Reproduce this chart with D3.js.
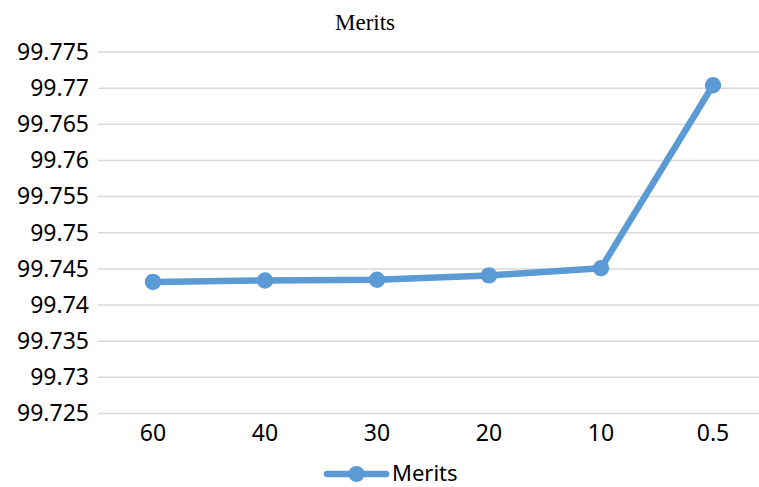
<!DOCTYPE html>
<html>
<head>
<meta charset="utf-8">
<script src="https://cdn.jsdelivr.net/npm/d3@7"></script>
<style>
  body { margin: 0; background: #fff; }
  svg { display: block; }
</style>
</head>
<body>
<svg id="chart" width="759" height="487"></svg>
<script>
const categories = ["60", "40", "30", "20", "10", "0.5"];
const seriesName = "Merits";
const meritsValues = [99.7432, 99.7434, 99.7435, 99.7441, 99.7451, 99.7704];
const yTicks = [99.725, 99.73, 99.735, 99.74, 99.745, 99.75, 99.755, 99.76, 99.765, 99.77, 99.775];
const yTickLabels = ["99.725", "99.73", "99.735", "99.74", "99.745", "99.75", "99.755", "99.76", "99.765", "99.77", "99.775"];

const color = "#5b9bd5";
const svg = d3.select("#chart");

const x = d3.scaleBand().domain(categories).range([97, 769]);
const y = d3.scaleLinear().domain([99.725, 99.775]).range([413.5, 52]);

// gridlines
svg.append("g").selectAll("line").data(yTicks).join("line")
  .attr("x1", 98).attr("x2", 759)
  .attr("y1", d => y(d)).attr("y2", d => y(d))
  .attr("stroke", "#d9d9d9").attr("stroke-width", 1.5);

// y axis labels
const yAxis = d3.axisLeft(y).tickValues(yTicks).tickSize(0).tickPadding(0)
  .tickFormat((d, i) => yTickLabels[i]);
const gy = svg.append("g").attr("transform", "translate(89,0)").call(yAxis);
gy.select(".domain").remove();
gy.selectAll("text").attr("font-family", "Noto Sans").attr("font-size", 23).attr("fill", "#000");

// x axis labels
const xAxis = d3.axisBottom(x).tickSize(0).tickPadding(0);
const gx = svg.append("g").attr("transform", "translate(0,420)").call(xAxis);
gx.select(".domain").remove();
gx.selectAll("text").attr("font-family", "Noto Sans").attr("font-size", 23).attr("fill", "#000")
  .attr("dy", "0.9em");

// title
svg.append("text").attr("x", 365).attr("y", 30).attr("text-anchor", "middle")
  .attr("font-family", "Liberation Serif").attr("font-size", 23).attr("fill", "#000")
  .text(seriesName);

// line
const data = categories.map((c, i) => ({ c, v: meritsValues[i] }));
const line = d3.line().x(d => x(d.c) + x.bandwidth() / 2).y(d => y(d.v));
svg.append("path").datum(data).attr("d", line)
  .attr("fill", "none").attr("stroke", color).attr("stroke-width", 6.5)
  .attr("stroke-linejoin", "round").attr("stroke-linecap", "round");

svg.append("g").selectAll("circle").data(data).join("circle")
  .attr("cx", d => x(d.c) + x.bandwidth() / 2).attr("cy", d => y(d.v))
  .attr("r", 8.2).attr("fill", color);

// legend
const lg = svg.append("g");
lg.append("line").attr("x1", 327).attr("x2", 386).attr("y1", 474).attr("y2", 474)
  .attr("stroke", color).attr("stroke-width", 6.5).attr("stroke-linecap", "round");
lg.append("circle").attr("cx", 356.5).attr("cy", 474).attr("r", 8).attr("fill", color);
lg.append("text").attr("x", 392).attr("y", 481).attr("font-family", "Noto Sans")
  .attr("font-size", 22).attr("fill", "#000").text(seriesName);
</script>
</body>
</html>
